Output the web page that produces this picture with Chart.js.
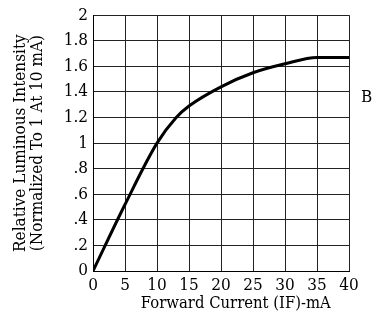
<!DOCTYPE html>
<html>
<head>
<meta charset="utf-8">
<script src="https://cdn.jsdelivr.net/npm/chart.js@4"></script>
<style>
  body { margin: 0; background: #fff; }
  #wrap { position: relative; width: 377px; height: 318px; }
  #lblB { position: absolute; left: 361px; top: 86px; font: 17px "DejaVu Serif Condensed", "DejaVu Serif", serif; color: #000; }
</style>
</head>
<body>
<div id="wrap">
  <canvas id="grafico" width="377" height="318"></canvas>
  <div id="lblB">B</div>
</div>
<script>
// corrente direta (mA) e intensidade relativa
const correntes = [0, 5, 10, 13, 15, 20, 25, 30, 35, 40];
const intensidade = [0, 0.52, 1.0, 1.2, 1.29, 1.44, 1.55, 1.62, 1.67, 1.67];
const xTicks = [0, 5, 10, 15, 20, 25, 30, 35, 40];
const yTicks = [0, 0.2, 0.4, 0.6, 0.8, 1, 1.2, 1.4, 1.6, 1.8, 2];

const fonte = '"DejaVu Serif Condensed", "DejaVu Serif", serif';

function rotuloY(v) {
    if (v === 0) return '0';
    if (v < 1) return v.toFixed(1).replace(/^0/, '');
    if (Number.isInteger(v)) return String(v);
    return v.toFixed(1);
}

const ctx = document.getElementById('grafico').getContext('2d');
new Chart(ctx, {
    type: 'line',
    data: {
        datasets: [{
            data: correntes.map((c, i) => ({ x: c, y: intensidade[i] })),
            borderColor: '#000',
            borderWidth: 3,
            pointRadius: 0,
            cubicInterpolationMode: 'monotone',
            fill: false
        }]
    },
    options: {
        responsive: false,
        animation: false,
        layout: { padding: { top: 15, right: 28, left: 12, bottom: 0 } },
        plugins: { legend: { display: false }, tooltip: { enabled: false } },
        scales: {
            x: {
                type: 'linear',
                min: 0, max: 40,
                afterBuildTicks: (s) => { s.ticks = xTicks.map(v => ({ value: v })); },
                afterFit: (s) => { s.height = 47; },
                grid: { color: '#222', lineWidth: 1, drawTicks: false },
                border: { color: '#000', width: 1 },
                ticks: { color: '#000', font: { family: fonte, size: 17 }, padding: 4, maxRotation: 0 },
                // espaços no início só para empurrar o título um pouco para a direita
                title: { display: true, text: '\u2003\u2003Forward Current (IF)-mA', color: '#000', font: { family: fonte, size: 16.5 }, padding: { top: 0 } }
            },
            y: {
                min: 0, max: 2,
                afterBuildTicks: (s) => { s.ticks = yTicks.map(v => ({ value: v })); },
                afterFit: (s) => { s.width = 81; },
                grid: { color: '#222', lineWidth: 1, drawTicks: false },
                border: { color: '#000', width: 1 },
                ticks: { color: '#000', font: { family: fonte, size: 17 }, padding: 5, callback: rotuloY },
                title: {
                    display: true,
                    text: ['Relative Luminous Intensity', '(Normalized To 1 At 10 mA)'],
                    color: '#000',
                    font: { family: fonte, size: 17, lineHeight: 1.0 },
                    padding: 0
                }
            }
        }
    }
});
</script>
</body>
</html>
